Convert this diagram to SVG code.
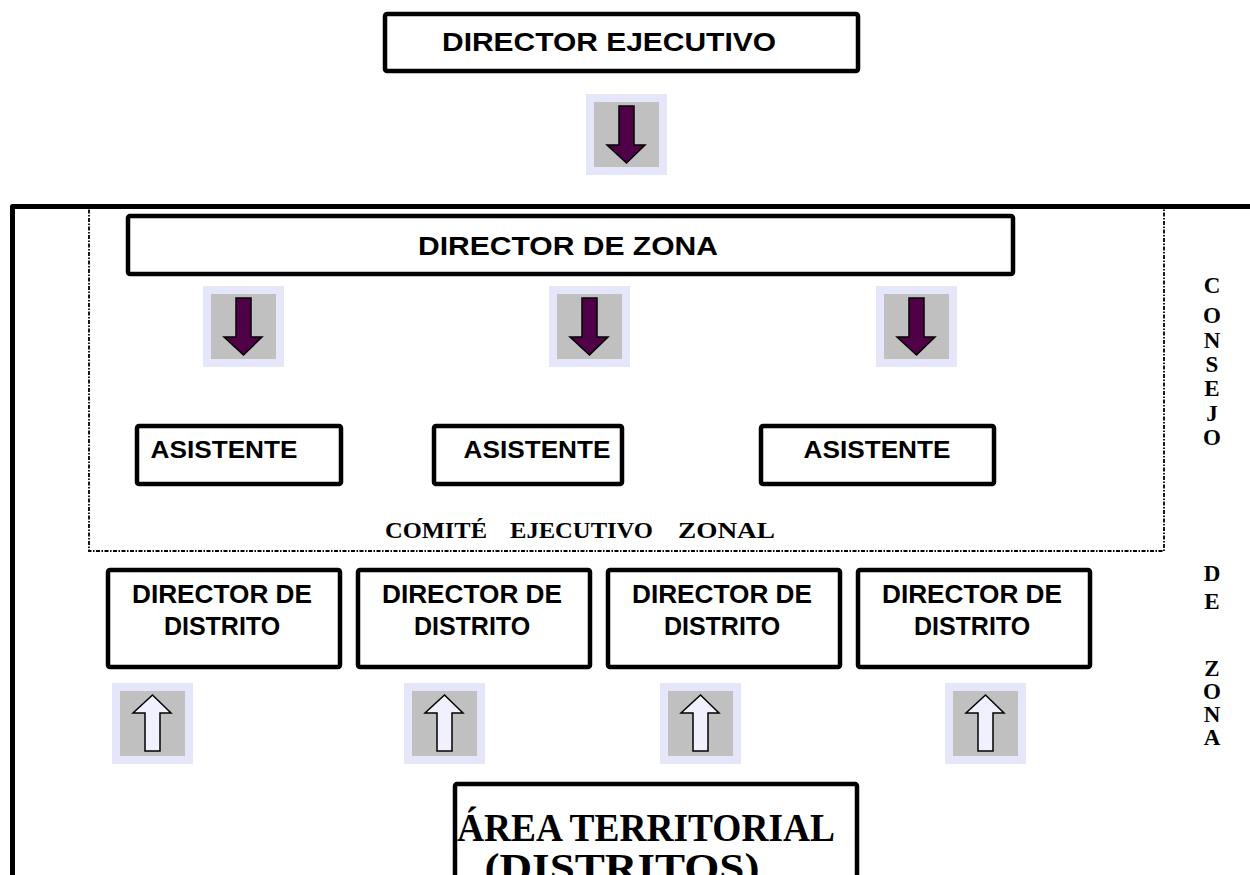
<svg xmlns="http://www.w3.org/2000/svg" xmlns:xlink="http://www.w3.org/1999/xlink" width="1250" height="875" viewBox="0 0 1250 875">
<style>
  .box { fill: #ffffff; stroke: #000000; stroke-width: 4.5; }
  .sans { font-family: "Liberation Sans", Arial, sans-serif; font-weight: bold; fill: #000000; }
  .serif { font-family: "Liberation Serif", "Times New Roman", serif; font-weight: bold; fill: #000000; }
  .frame { fill: none; stroke: #000000; stroke-width: 5; stroke-linejoin: round; }
  .dotted { fill: none; stroke: #000000; stroke-width: 1.8; stroke-dasharray: 4 1.5 1.5 1.5; }
  .lav { fill: #e6e6fa; }
  .gray { fill: #c0c0c0; }
  .dn { fill: #4f0046; stroke: #000000; stroke-width: 1.5; stroke-linejoin: miter; }
  .up { fill: #f0f0ff; stroke: #000000; stroke-width: 1.5; stroke-linejoin: miter; }
</style>
<defs>
  <g id="downArrow">
    <rect class="lav" x="0" y="0" width="81" height="81"/>
    <rect class="gray" x="8" y="8" width="65" height="65"/>
    <path class="dn" d="M33,12 H48 V51 H59 L40.5,69 L21,51 H33 Z"/>
  </g>
  <g id="upArrow">
    <rect class="lav" x="0" y="0" width="81" height="81"/>
    <rect class="gray" x="8" y="8" width="65" height="65"/>
    <path class="up" d="M40.5,12 L59,30 H48 V68 H33 V30 H21 Z"/>
  </g>
</defs>
<rect x="0" y="0" width="1250" height="875" fill="#ffffff"/>

<g id="consejo-frame">
  <path class="frame" d="M12.5,880 V206.5 H1255"/>
</g>
<g id="comite-ejecutivo-zonal" class="serif" font-size="23">
  <rect class="dotted" x="89" y="208" width="1075" height="343"/>
  <text x="385" y="538" textLength="102" lengthAdjust="spacingAndGlyphs">COMITÉ</text>
  <text x="510" y="538" textLength="143" lengthAdjust="spacingAndGlyphs">EJECUTIVO</text>
  <text x="678" y="538" textLength="97" lengthAdjust="spacingAndGlyphs">ZONAL</text>
</g>

<g id="director-ejecutivo">
  <rect class="box" x="385" y="14" width="473" height="57" rx="2"/>
  <text class="sans" x="609" y="51" font-size="26" text-anchor="middle" textLength="334" lengthAdjust="spacingAndGlyphs">DIRECTOR EJECUTIVO</text>
</g>

<g id="director-zona">
  <rect class="box" x="128" y="216" width="885" height="58" rx="2"/>
  <text class="sans" x="568" y="255" font-size="26" text-anchor="middle" textLength="300" lengthAdjust="spacingAndGlyphs">DIRECTOR DE ZONA</text>
</g>

<g id="asistente-1">
  <rect class="box" x="137" y="426" width="204" height="58" rx="2"/>
  <text class="sans" x="224" y="458" font-size="23" text-anchor="middle" textLength="147" lengthAdjust="spacingAndGlyphs">ASISTENTE</text>
</g>
<g id="asistente-2">
  <rect class="box" x="434" y="426" width="188" height="58" rx="2"/>
  <text class="sans" x="537" y="458" font-size="23" text-anchor="middle" textLength="147" lengthAdjust="spacingAndGlyphs">ASISTENTE</text>
</g>
<g id="asistente-3">
  <rect class="box" x="761" y="426" width="233" height="58" rx="2"/>
  <text class="sans" x="877" y="458" font-size="23" text-anchor="middle" textLength="147" lengthAdjust="spacingAndGlyphs">ASISTENTE</text>
</g>

<g id="director-distrito-1">
  <rect class="box" x="108" y="570" width="232" height="97" rx="2"/>
  <text class="sans" x="222" y="603" font-size="25" text-anchor="middle" textLength="180" lengthAdjust="spacingAndGlyphs">DIRECTOR DE</text>
  <text class="sans" x="222" y="635" font-size="25" text-anchor="middle">DISTRITO</text>
</g>
<g id="director-distrito-2">
  <rect class="box" x="358" y="570" width="232" height="97" rx="2"/>
  <text class="sans" x="472" y="603" font-size="25" text-anchor="middle" textLength="180" lengthAdjust="spacingAndGlyphs">DIRECTOR DE</text>
  <text class="sans" x="472" y="635" font-size="25" text-anchor="middle">DISTRITO</text>
</g>
<g id="director-distrito-3">
  <rect class="box" x="608" y="570" width="232" height="97" rx="2"/>
  <text class="sans" x="722" y="603" font-size="25" text-anchor="middle" textLength="180" lengthAdjust="spacingAndGlyphs">DIRECTOR DE</text>
  <text class="sans" x="722" y="635" font-size="25" text-anchor="middle">DISTRITO</text>
</g>
<g id="director-distrito-4">
  <rect class="box" x="858" y="570" width="232" height="97" rx="2"/>
  <text class="sans" x="972" y="603" font-size="25" text-anchor="middle" textLength="180" lengthAdjust="spacingAndGlyphs">DIRECTOR DE</text>
  <text class="sans" x="972" y="635" font-size="25" text-anchor="middle">DISTRITO</text>
</g>

<g id="area-territorial">
  <rect class="box" x="455" y="784" width="402" height="110" rx="2"/>
  <text class="serif" x="646" y="841" font-size="41" text-anchor="middle" textLength="378" lengthAdjust="spacingAndGlyphs">ÁREA TERRITORIAL</text>
  <text class="serif" x="622" y="881" font-size="41" text-anchor="middle" textLength="275" lengthAdjust="spacingAndGlyphs">(DISTRITOS)</text>
</g>

<g id="consejo-de-zona-label" class="serif" font-size="23" text-anchor="middle">
  <text x="1212" y="293">C</text>
  <text x="1212" y="323">O</text>
  <text x="1212" y="348">N</text>
  <text x="1212" y="372">S</text>
  <text x="1212" y="396">E</text>
  <text x="1212" y="421">J</text>
  <text x="1212" y="445">O</text>
  <text x="1212" y="581">D</text>
  <text x="1212" y="609">E</text>
  <text x="1212" y="676">Z</text>
  <text x="1212" y="699">O</text>
  <text x="1212" y="722">N</text>
  <text x="1212" y="745">A</text>
</g>

<g id="connectors">
  <use xlink:href="#downArrow" x="586" y="94"/>
  <use xlink:href="#downArrow" x="203" y="286"/>
  <use xlink:href="#downArrow" x="549" y="286"/>
  <use xlink:href="#downArrow" x="876" y="286"/>
  <use xlink:href="#upArrow" x="112" y="683"/>
  <use xlink:href="#upArrow" x="404" y="683"/>
  <use xlink:href="#upArrow" x="660" y="683"/>
  <use xlink:href="#upArrow" x="945" y="683"/>
</g>
</svg>
